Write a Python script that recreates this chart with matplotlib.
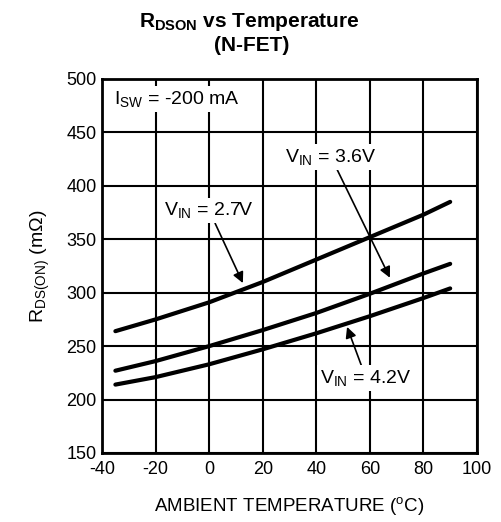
import matplotlib
matplotlib.use("Agg")
import matplotlib.pyplot as plt

plt.rcParams['font.family'] = ['Liberation Sans', 'DejaVu Sans']
plt.rcParams['mathtext.fontset'] = 'custom'
plt.rcParams['mathtext.rm'] = 'Liberation Sans'
plt.rcParams['mathtext.it'] = 'Liberation Sans'
plt.rcParams['mathtext.bf'] = 'Liberation Sans:bold'
plt.rcParams['axes.unicode_minus'] = False

temps = [-35, -20, 0, 20, 40, 60, 80, 90]
rds_27 = [264, 275, 291, 310, 331, 352, 373, 385]
rds_36 = [227, 236, 250, 265, 281, 299, 318, 327]
rds_42 = [214, 221, 233, 247, 262, 278, 295, 304]

xticks = [-40, -20, 0, 20, 40, 60, 80, 100]
yticks = [150, 200, 250, 300, 350, 400, 450, 500]

fig = plt.figure(figsize=(5.01, 5.22), dpi=100)
ax = fig.add_axes([0.2036, 0.1322, 0.7484, 0.7165])

for ys in (rds_27, rds_36, rds_42):
    ax.plot(temps, ys, color='black', lw=3.0, solid_capstyle='round', zorder=4)

ax.set_xlim(-40, 100)
ax.set_ylim(150, 500)
ax.set_xticks(xticks)
ax.set_yticks(yticks)
ax.tick_params(labelsize=13, length=0)
ax.tick_params(axis='x', pad=6)
ax.tick_params(axis='y', pad=4)
ax.grid(True, color='black', lw=1.5, zorder=1)
ax.set_axisbelow(True)
for s in ax.spines.values():
    s.set_linewidth(2.0)

box = dict(boxstyle='square,pad=0.15', fc='white', ec='none')
ax.text(-12, 481, r'I$_{\mathrm{SW}}$ = -200 mA', fontsize=14, ha='center', va='center', bbox=box, zorder=3)

arrow = dict(arrowstyle='-|>', color='black', lw=1.2, mutation_scale=16, shrinkA=0, shrinkB=0)
ax.annotate(r'V$_{\mathrm{IN}}$ = 2.7V', xy=(12.6, 309), xytext=(0, 377),
            fontsize=14, ha='center', va='center', bbox=box,
            arrowprops=arrow, zorder=3)
ax.annotate(r'V$_{\mathrm{IN}}$ = 3.6V', xy=(67.5, 314), xytext=(45.5, 427),
            fontsize=14, ha='center', va='center', bbox=box,
            arrowprops=arrow, zorder=3)
ax.annotate(r'V$_{\mathrm{IN}}$ = 4.2V', xy=(51.5, 268), xytext=(58.6, 220),
            fontsize=14, ha='center', va='center', bbox=box,
            arrowprops=arrow, zorder=3)

ax.set_xlabel(r'AMBIENT TEMPERATURE ($^{\mathrm{o}}$C)', fontsize=13.5, labelpad=12)
ax.set_ylabel(r'R$_{\mathrm{DS(ON)}}$ (m$\Omega$)', fontsize=14, labelpad=10)

fig.text(0.497, 0.958, r'R$_{\mathbf{DSON}}$ vs Temperature', fontsize=15,
         fontweight='bold', ha='center', va='center')
fig.text(0.502, 0.912, '(N-FET)', fontsize=15, fontweight='bold',
         ha='center', va='center')

fig.savefig('out.png', dpi=100)
